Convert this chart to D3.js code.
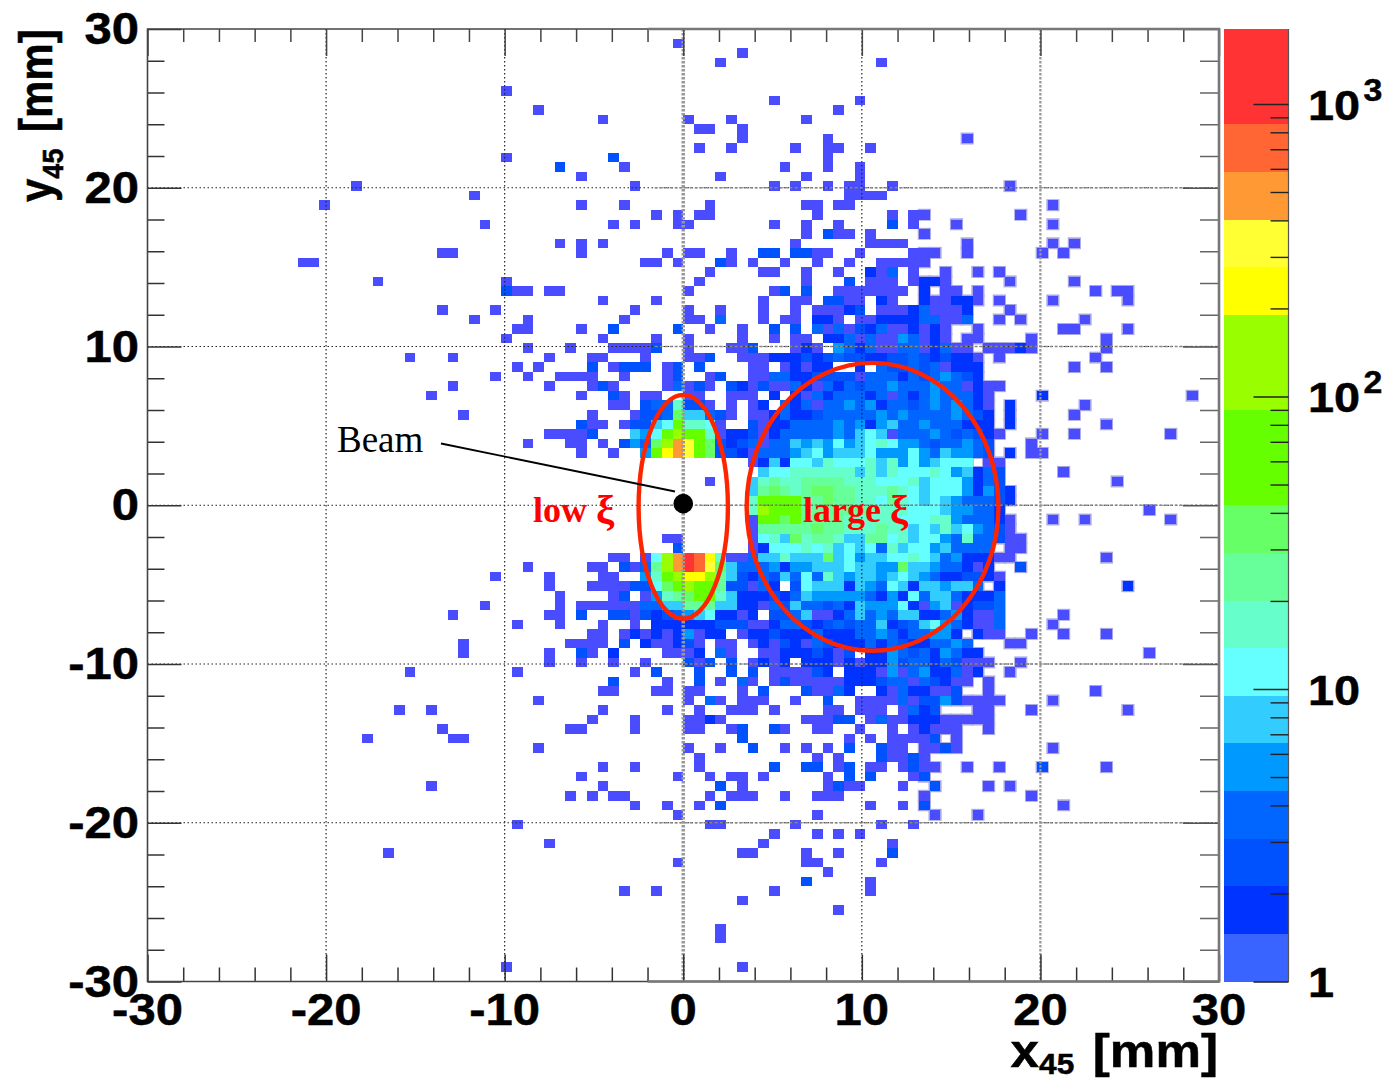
<!DOCTYPE html>
<html>
<head>
<meta charset="utf-8">
<script src="https://cdnjs.cloudflare.com/ajax/libs/d3/7.8.5/d3.min.js"></script>
<style>
  html, body { margin: 0; padding: 0; background: #fff; }
  svg { display: block; }
</style>
</head>
<body>
<div id="chart"></div>
<script>
// one string per y bin (top to bottom), "column:bands" runs, band = colour code below
const rows = [
"", "49:0", "55:0", "53:0 68:0", "", "", "33:0", "58:0 66:0", "36:0 64:0",
"42:0 50:0 54:0 61:0",
"51:00 55:0",
"55:0 63:0 76:0",
"51:0 54:0 60:0 63:00 67:0",
"33:0 43:2 63:0",
"38:2 44:0 59:0 63:0 66:0",
"40:0 53:0 61:0 66:0",
"19:0 45:0 58:0 60:0 63:0 65:00 69:0 80:0",
"30:0 65:0000",
"16:0 40:0 44:0 52:0 61:00 64:00 84:0",
"47:0 49:0 51:00 62:0 69:0 71:00 81:0",
"31:0 43:0 45:0 49:00 58:0 61:0 64:0 69:2 71:0 75:0 84:0",
"61:0 63:200 67:0 72:0",
"38:0 40:0 42:0 60:0 67:0000 76:0 84:0 86:0",
"27:00 40:0 48:0 50:00 54:0 57:22 60:22 62:00 66:0 71:000 76:0 83:0 85:0",
"14:00 46:00 49:0 53:2 54:0 56:0 59:0 62:0 65:0 68:00 70:00 72:0",
"52:0 57:00 61:0 64:0 67:103 71:0 74:0 77:0 79:0",
"21:0 33:0 51:0 61:0 65:2 67:000 71:0 72:11 74:0 80:0 86:0",
"33:200 37:00 50:0 58:0 59:2 61:2 64:0 65:00 67:0000 72:1 74:0 75:0 77:0 88:0 90:00",
"42:0 47:0 57:0 60:00 63:22 65:00 68:10 72:100 75:11 77:0 79:0 84:0 91:0",
"27:0 32:0 45:0 50:0 53:0 57:0 60:0 62:0 63:00 65:12 68:000 71:1 72:3 73:0 74:0 75:0 76:1 80:0",
"30:0 35:0 44:0 50:00 53:3 57:0 59:00 62:11 64:0 66:00 68:1111 72:33 74:0 75:0 76:3 79:0 81:0 87:0",
"34:00 40:0 43:2 49:2 52:0 55:0 58:2 60:2 62:3 63:0 64:3 65:0 66:21 68:3 69:00 71:1 72:0 73:1 74:0 77:0 85:00 91:0",
"33:0 42:0 47:0 50:0 55:0 58:0 60:00 63:11 65:303 68:00 70:43 72:0 73:1 74:0 76:00 82:0 89:0",
"35:0 39:0 43:00002 50:0 54:00 56:2 60:0 61:1 62:0 64:4 65:3 66:1 67:3 68:00 70:33 72:0 73:1 74:3 75:0 76:0 78:000 81:1 82:0 89:0",
"24:0 28:0 37:0 41:00 46:0 50:0 51:0 52:2 55:00 57:0 58:11 60:1 61:2 62:1 63:2 64:3 65:22 67:11 69:22 71:3 72:2 73:1 74:2 75:11 77:0 79:0 88:0",
"34:0 36:0 41:2 43:0 44:222 48:0 49:2 51:2 56:00 59:0 60:1 61:0 62:1 63:1 66:1 68:322 71:3 72:2 73:3 74:0 75:111 86:0 89:0",
"32:0 35:0 38:0000 44:0 48:0 49:2 52:0 53:2 56:00 58:33 60:11 62:2222 66:0 67:333 70:1 71:3 72:2 73:3 74:4 75:3 76:2 77:1",
"28:0 37:0 41:0 42:2 43:0 48:0 49:3 50:0 51:2 52:0 54:2 55:1 56:0 57:2 58:00 60:3 61:1 62:0 63:3 64:1 65:3 66:2 67:33 69:4 70:333 73:4 74:33 76:0 77:1 78:00",
"26:0 40:0 43:2 44:0 46:00 50:00 54:000 58:1 60:1 61:0 62:3 63:1 64:333 67:1 68:3 69:0 70:3 71:1 72:3 73:4 74:333 77:1 78:0 83:1 97:0",
"43:00 46:2337220 54:0 56:01 59:3130 63:33 65:434 68:1 69:33 71:2 72:3 73:4 74:3 75:4 76:3 77:1 78:0 80:1 87:0",
"29:0 41:0 45:0 46:22 48:3 49:9 50:55 52:3 53:2 54:0 56:00 58:1 59:3 60:11 62:2 63:33333 68:4 69:3 70:4 71:3333 75:4 76:3 77:2 78:1 80:1 86:0",
"40:2 41:00 44:0 45:22 47:5 48:6 49:a 50:77 52:6 53:0 56:2 57:0 58:11 60:3333 64:4 65:3 66:4 67:1 68:4 69:5 70:33 72:4 73:333 76:111 80:1 89:0",
"37:0000 41:2 45:5 46:4 47:6 48:a 49:b 50:aa 52:7 53:0 54:11 56:2 57:0 58:1 59:33333 64:4 65:3 66:5 67:6 68:5 69:0 70:333 73:4 74:3 75:2 76:3 77:2 78:1 79:0 83:0 86:0 95:0",
"35:0 39:00 42:0 44:2 45:4 46:3 47:9 48:b 49:e 50:d 51:a 52:9 53:2 54:12 56:3 57:0 58:33 60:5 61:4 62:5 63:4 64:6 65:4 66:5 67:6 68:7 69:6 70:44 72:3 73:2 74:33 76:4 77:3 78:2 82:0",
"40:0 43:0 46:4 47:a 48:c 49:e 50:d 51:a 52:9 53:22 55:1 56:0 57:333 60:4 61:5 62:6 63:4 64:555 67:6 68:444 71:6 72:4 73:3 74:5 75:44 77:3 78:2 80:1 82:00",
"56:0 57:1 58:5 59:1 60:66 62:5 63:7 64:666 67:7 68:5 69:7 70:4 71:6 72:4 73:5 74:666 78:00",
"57:5 58:66 60:777777 66:5 67:7 68:5 69:7 70:666 73:7 74:6 75:4 76:5 77:1 78:3 79:2 85:0",
"52:0 56:5 57:7 58:8 59:77 61:8888 65:777 68:666 71:7 72:5 73:666 76:4 77:1 78:3 79:2 90:0",
"56:5 57:8 58:9 59:8 60:7 61:8 62:99 64:88 66:777 69:8 70:7 71:6 72:5 73:666 76:4 77:1 78:4 79:2 80:1",
"56:7 57:aaaa 61:88 63:9 64:88 66:77 68:6 69:8 70:7 71:6 72:5 73:6 74:5 75:4 76:3 77:33 79:2 80:1",
"56:7 57:baaa 61:888888 67:7777 71:666 74:5 75:44 77:33 79:1 93:0",
"56:0 57:aa9a 61:8888 65:77777 70:666 73:77 75:4 76:333 79:1 80:0 84:0 87:0 95:0",
"56:0 57:88888 62:9 63:88 65:777 68:8 69:77 71:5 72:6 73:5 74:7 75:5 76:6 77:4 78:3 79:2 80:0",
"48:00 56:0 57:6 58:7 59:5 60:9 61:7 62:88 64:7 65:55 67:88 69:6 70:7 71:5 72:66 74:4 75:3 76:7 77:33 79:2 80:0 81:0",
"49:2 56:0 57:1 58:666 61:7 62:6 63:7 64:5 65:6 66:5 67:6 68:3 69:7 70:5 71:66 73:4 74:5 75:333 78:3 80:00",
"43:00 46:0 47:6 48:b 49:e 50:g 51:f 52:c 53:7 54:0 55:0 56:3 57:55 59:7 60:555 63:9 64:5 65:6 66:4 67:55 69:66 71:7 72:6 73:5 74:3 75:4 76:111 79:0 80:0 89:0",
"35:0 41:00 44:2 45:0 46:3 47:8 48:b 49:e 50:g 51:f 52:d 53:9 54:5 55:3 56:33 58:4 59:1 60:44 62:555 65:6 66:55 68:44 70:9 71:55 73:4 74:33 76:1 77:0 78:1 81:2",
"32:0 37:0 42:00 46:4 47:7 48:a 49:b 50:cc 52:b 53:8 54:5 55:2 56:1 57:3 58:2 59:5 60:3 61:6 62:3 63:7 64:5 65:4 66:55 68:4 69:5 70:6 71:5 72:4 73:3 74:11 76:22 78:1 79:0",
"37:0 41:0000 45:22 47:6 48:9 49:a 50:b 51:aa 53:8 54:2 55:2 56:0 57:3 58:1 60:2 61:6 62:555 65:1 66:5 67:4 68:3 69:6 70:5 71:1 72:55 74:4 75:55 77:3 79:1 91:1",
"38:0 43:0 44:2 46:0 47:4 48:7 49:8 50:9 51:aa 53:7 54:5 55:111 58:2 59:1 60:3 61:5 62:44444 67:3 68:1 69:4 70:1 71:6 72:3 73:55 75:3 76:111 79:3",
"31:0 38:0 40:000000 46:33 48:55 50:888 53:5 54:5 55:11 57:0 58:3 59:2 60:5 61:33 63:2 64:3 65:1 66:5 67:444 70:6 71:1 72:0 73:4 74:5 75:0 76:1 77:22 79:3",
"28:0 37:00 40:2 43:22 45:0 46:2 47:1 48:2 49:3 50:4 51:5 52:6 53:1 54:1 55:0 56:1 58:22 60:3 61:5 62:00 64:1 65:3 66:5 67:3 68:4 69:3 70:55 72:11 74:3 75:4 76:1 77:00 79:3 85:0",
"34:0 38:0 42:0 45:0 47:111111 53:22 55:2 56:00 58:1 59:33 61:2 62:1 63:2 64:3 65:2 66:33 68:5 69:1 70:2 71:3 72:5 73:6 74:4 75:3 76:1 77:00 79:3 84:0",
"41:00 44:0 45:1 46:0 47:1 48:0 49:1 50:4 51:0 52:11 55:0 56:11 58:2 59:111 62:3 63:111 66:33 68:4 69:3 70:1 71:33 73:44 75:1 77:1 78:00 82:0 85:0 89:0",
"29:0 39:0000 44:2 46:1 47:00 49:1 50:2 51:0 53:00 56:0 57:1 58:0 59:2 60:1 61:0 62:3 63:2 64:111 67:3 68:1 69:3 70:2 71:11 73:33 75:4 76:3 80:00",
"29:0 37:0 40:20 43:1 48:000 51:1 53:3 54:0 57:00 59:111 62:2 63:1 64:0 65:2 67:11 69:4 70:3 71:2 72:3 73:1 74:4 75:3 76:11 93:0",
"37:0 40:0 43:0 46:0 50:2 51:0 52:2 54:2 56:0 57:1 58:0 59:1 61:111 64:0 65:1 66:0 67:11 69:4 70:2 71:33 73:1 74:3 75:2 76:000 81:0",
"24:0 34:0 45:0 47:2 51:2 54:2 56:2 58:0 59:000 62:2 63:1 65:11 67:1 68:0 69:4 70:0 71:3 72:4 73:11 75:3 76:0 77:1 80:0",
"43:2 48:0 51:2 53:0 55:3 56:0 58:0 59:2 60:000 63:00 65:111 68:2 69:33 71:0 72:3 73:2 74:1 75:00 78:0",
"42:00 47:00 50:00 55:0 57:2 61:2 62:00 64:3 65:1 68:1 69:0 70:3 71:11 73:00 75:2 78:0 88:0",
"36:0 50:0 52:3 53:0 55:000 60:0 63:2 66:0000 70:3 71:0 72:22 74:4 75:2 76:00 78:00 84:0",
"23:0 26:0 42:0 48:0 51:0 54:000 58:0 63:00 66:000 70:0 71:3 72:1 73:2 77:00 82:0 91:0",
"41:0 45:0 50:00 52:1 53:0 61:000 64:22 67:0 68:3 69:00 71:11 73:1 74:00000",
"27:0 39:00 45:0 50:00 54:0 55:2 58:2 59:0 62:00 66:0 69:0 71:0 72:1 73:000 78:0",
"20:0 28:00 55:2 65:0 67:0 69:00 71:00 73:2 75:0",
"36:0 50:0 53:0 56:2 59:0 61:0 63:0 65:2 68:2 69:00 72:00 74:2 75:0 84:0",
"51:0 62:0 64:0 68:2 69:00 71:2 72:0",
"42:0 45:0 51:0 58:2 61:22 64:0 65:2 67:00 70:0 71:2 72:00 76:0 79:0 83:2 89:0",
"40:0 49:0 52:0 54:00 57:0 63:0 65:2 67:2 71:0 72:2",
"26:0 42:0 53:2 55:0 63:0 64:2 65:00 70:0 73:2 78:0 80:0",
"39:0 41:0 43:00 52:0 54:00 56:0 59:0 62:000 72:0 82:0",
"45:0 48:0 51:0 53:2 67:0 70:0 72:2 85:0",
"49:0 62:0 73:0 77:0",
"34:0 52:00 60:0 68:0 71:0",
"58:0 62:0 64:0 66:0",
"37:0 57:0 69:0",
"22:0 55:00 61:0 64:0 69:2",
"49:0 61:00 68:0",
"63:0", "61:2 67:0", "44:0 47:0 58:0 67:0", "55:0", "64:0", "", "53:0", "53:0", "", "", "33:0 55:0", ""
];

const bandCodes = "0123456789abcdefg";
const binColors = ["#4a4cff", "#0033ff", "#0052ff", "#0066ff", "#0099ff", "#33ccff", "#66ffff", "#66ffcc", "#66ff99", "#66ff66", "#66ff00", "#99ff00", "#ffff00", "#ffff33", "#ff9933", "#ff6633", "#ff3333"];
// 20 contour levels of the palette bar, bottom to top
const barBands = [0, 1, 2, 3, 4, 5, 6, 7, 8, 9, 10, 10, 11, 11, 12, 13, 14, 15, 16, 16];

const majorTicks = [-30, -20, -10, 0, 10, 20, 30];
const minorTicks = d3.range(-28, 30, 2).filter((d) => d % 10 !== 0);
const barMajor = [1, 10, 100, 1000];
const barMinor = [2, 3, 4, 5, 6, 7, 8, 9, 20, 30, 40, 50, 60, 70, 80, 90, 200, 300, 400, 500, 600, 700, 800, 900];
const binWidth = 0.6;

const width = 1387;
const height = 1081;
const sans = "'Liberation Sans', Arial, sans-serif";
const serif = "'Liberation Serif', 'Times New Roman', serif";
const stretch = 1.09; // the figure is wider than tall, text included

const xScale = d3.scaleLinear().domain([-30, 30]).range([147.5, 1219]);
const yScale = d3.scaleLinear().domain([-30, 30]).range([981.5, 29]);
const barY = d3.scaleLog().domain([1, 1804]).range([981.5, 29]);
const barBandY = d3.scaleLinear().domain([0, 20]).range([981.5, 29]);

const cells = [];
rows.forEach((row, j) => {
  row.split(" ").filter(Boolean).forEach((run) => {
    const [start, bands] = run.split(":");
    [...bands].forEach((c, k) => {
      cells.push({ i: +start + k, j, band: bandCodes.indexOf(c) });
    });
  });
});

const svg = d3.select("#chart").append("svg").attr("width", width).attr("height", height);

const placeCell = (sel) => sel
  .attr("x", (d) => xScale(-30 + d.i * binWidth))
  .attr("y", (d) => yScale(30 - d.j * binWidth))
  .attr("width", (d) => xScale(-30 + (d.i + 1) * binWidth) - xScale(-30 + d.i * binWidth))
  .attr("height", (d) => yScale(30 - (d.j + 1) * binWidth) - yScale(30 - d.j * binWidth));

// the scan leaves a pale halo round the bins on the right hand side
svg.append("g")
  .selectAll("rect")
  .data(cells.filter((d) => d.i >= 72))
  .join("rect")
  .call(placeCell)
  .attr("fill", "none")
  .attr("stroke", "#a6a6e6")
  .attr("stroke-width", 2.4);

// histogram
svg.append("g")
  .attr("shape-rendering", "crispEdges")
  .selectAll("rect")
  .data(cells)
  .join("rect")
  .call(placeCell)
  .attr("fill", (d) => binColors[d.band]);

// grid, dotted; the right part of the scan comes out grey and smeared
const grid = svg.append("g").attr("fill", "none");
majorTicks.slice(1, -1).forEach((v) => {
  grid.append("line")
    .attr("x1", xScale(v)).attr("x2", xScale(v))
    .attr("y1", yScale(30)).attr("y2", yScale(-30))
    .attr("stroke", "#222").attr("stroke-width", 1.2).attr("stroke-dasharray", "1.5,2.5");
  grid.append("line")
    .attr("x1", xScale(-30)).attr("x2", xScale(30))
    .attr("y1", yScale(v)).attr("y2", yScale(v))
    .attr("stroke", "#222").attr("stroke-width", 1.2).attr("stroke-dasharray", "1.5,2.5");
  grid.append("line")
    .attr("x1", xScale(-1.6)).attr("x2", xScale(30))
    .attr("y1", yScale(v)).attr("y2", yScale(v))
    .attr("stroke", "#888").attr("stroke-width", 1.6).attr("stroke-dasharray", "3,2");
});
[[0, 3.5], [20, 2.2]].forEach(([v, w]) => {
  grid.append("line")
    .attr("x1", xScale(v)).attr("x2", xScale(v))
    .attr("y1", yScale(30)).attr("y2", yScale(-30))
    .attr("stroke", "#999").attr("stroke-width", w).attr("stroke-dasharray", "2.5,1.5");
});

// ticks, on all four sides, pointing in
const drawTicks = (axis, tx, ty, values, size, color) => {
  svg.append("g")
    .attr("transform", `translate(${tx},${ty})`)
    .call(axis.tickValues(values).tickSize(size).tickFormat(""))
    .call((g) => g.select(".domain").remove())
    .call((g) => g.selectAll("line").attr("stroke", color).attr("stroke-width", 1.5));
};
drawTicks(d3.axisBottom(xScale), 0, yScale(-30), majorTicks, -27, "#333");
drawTicks(d3.axisBottom(xScale), 0, yScale(-30), minorTicks, -14, "#333");
drawTicks(d3.axisTop(xScale), 0, yScale(30), majorTicks, -27, "#444");
drawTicks(d3.axisTop(xScale), 0, yScale(30), minorTicks, -13, "#444");
drawTicks(d3.axisLeft(yScale), xScale(-30), 0, majorTicks, -34, "#333");
drawTicks(d3.axisLeft(yScale), xScale(-30), 0, minorTicks, -17, "#333");
drawTicks(d3.axisRight(yScale), xScale(30), 0, majorTicks, -36, "#555");
drawTicks(d3.axisRight(yScale), xScale(30), 0, minorTicks, -19, "#666");

// frame
const frame = svg.append("g").attr("fill", "none");
frame.append("path")
  .attr("d", `M${xScale(30)},${yScale(30)}H${xScale(-30)}V${yScale(-30)}H${xScale(30)}`)
  .attr("stroke", "#444").attr("stroke-width", 1.6);
frame.append("path")
  .attr("d", `M${xScale(-2)},${yScale(30)}H${xScale(30)}V${yScale(-30)}H${xScale(-2)}`)
  .attr("stroke", "#777").attr("stroke-width", 2.6);

// palette bar
const barX = 1224;
const barW = 64.5;
svg.append("g")
  .attr("shape-rendering", "crispEdges")
  .selectAll("rect")
  .data(barBands)
  .join("rect")
  .attr("x", barX)
  .attr("y", (d, i) => barBandY(i + 1))
  .attr("width", barW)
  .attr("height", (d, i) => barBandY(i) - barBandY(i + 1))
  .attr("fill", (d, i) => (i === 0 ? "#3a64ff" : binColors[d]));
svg.append("line")
  .attr("x1", barX + barW).attr("x2", barX + barW)
  .attr("y1", 29).attr("y2", 981.5)
  .attr("stroke", "#555").attr("stroke-width", 1.2);
const drawBarTicks = (values, size) => {
  svg.append("g")
    .attr("transform", `translate(${barX + barW},0)`)
    .call(d3.axisRight(barY).tickValues(values).tickSize(size).tickFormat(""))
    .call((g) => g.select(".domain").remove())
    .call((g) => g.selectAll("line").attr("stroke", "#222").attr("stroke-width", 1.4));
};
drawBarTicks(barMajor, -35);
drawBarTicks(barMinor, -18);

// text helper: stretched with the figure, rotate for the y title
const label = (x, y, anchor, size, rotate) => {
  const t = svg.append("text")
    .attr("transform", `translate(${x},${y}) scale(${stretch},1)${rotate ? " rotate(-90)" : ""}`)
    .attr("text-anchor", anchor)
    .attr("font-family", sans)
    .attr("font-weight", "bold")
    .attr("font-size", size)
    .attr("fill", "#000")
    .attr("stroke", "#000")
    .attr("stroke-width", 0.5);
  return t;
};

majorTicks.forEach((v) => {
  label(xScale(v), 1025, "middle", 45).text(v);
  label(139, yScale(v) + 15, "end", 45).text(v);
});

const xTitle = label(1218, 1067, "end", 47);
xTitle.append("tspan").text("x");
xTitle.append("tspan").attr("font-size", 29).attr("dy", 7).text("45");
xTitle.append("tspan").attr("dy", -7).attr("dx", 4).text(" [mm]");

const yTitle = label(52, 202, "start", 42, true);
yTitle.append("tspan").text("y");
yTitle.append("tspan").attr("font-size", 27).attr("dy", 10).text("45");
yTitle.append("tspan").attr("dy", -10).attr("dx", 5).text(" [mm]");

barMajor.forEach((v) => {
  const t = label(1308, barY(v) + (v === 1 ? 15 : 16), "start", 43);
  if (v === 1) {
    t.text("1");
  } else if (v === 10) {
    t.text("10");
  } else {
    t.append("tspan").text("10");
    t.append("tspan").attr("font-size", 31).attr("dy", -19).attr("dx", 3).text(Math.log10(v));
  }
});

// annotations
const ellipses = [
  { cx: 0, cy: -0.1, rx: 2.5, ry: 7.05 },
  { cx: 10.6, cy: -0.1, rx: 7.05, ry: 9.07 },
];
svg.append("g")
  .selectAll("ellipse")
  .data(ellipses)
  .join("ellipse")
  .attr("cx", (d) => xScale(d.cx))
  .attr("cy", (d) => yScale(d.cy))
  .attr("rx", (d) => xScale(d.rx) - xScale(0))
  .attr("ry", (d) => yScale(0) - yScale(d.ry))
  .attr("fill", "none")
  .attr("stroke", "#ff2400")
  .attr("stroke-width", 4.4);

svg.append("line")
  .attr("x1", 441).attr("y1", 443.5).attr("x2", 675).attr("y2", 491.5)
  .attr("stroke", "#000").attr("stroke-width", 1.8);
svg.append("circle")
  .attr("cx", xScale(0)).attr("cy", yScale(0.1)).attr("r", 9.8).attr("fill", "#000");

svg.append("text")
  .attr("x", 337).attr("y", 452)
  .attr("font-family", serif).attr("font-size", 37).attr("fill", "#000")
  .text("Beam");
[["low ", 533, 522], ["large ", 803, 522]].forEach(([s, x, y]) => {
  const t = svg.append("text")
    .attr("x", x).attr("y", y)
    .attr("font-family", serif).attr("font-weight", "bold").attr("font-size", 36).attr("fill", "#f00");
  t.append("tspan").text(s);
  t.append("tspan").attr("font-size", 41).attr("dy", 1).text("ξ");
});
</script>
</body>
</html>
